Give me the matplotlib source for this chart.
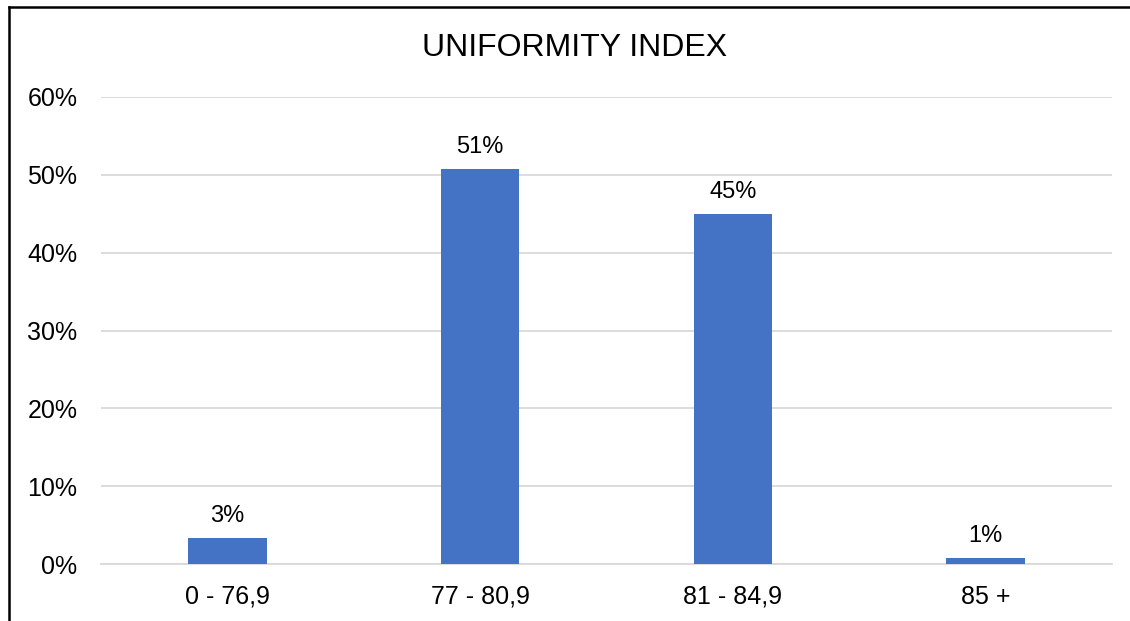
import matplotlib.pyplot as plt
from matplotlib.ticker import PercentFormatter

plt.rcParams['font.family'] = ['Liberation Sans', 'DejaVu Sans']

categories = ['0 - 76,9', '77 - 80,9', '81 - 84,9', '85 +']
shares = [0.034, 0.508, 0.450, 0.008]
y_ticks = [0.0, 0.1, 0.2, 0.3, 0.4, 0.5, 0.6]

W, H = 1130, 621
fig = plt.figure(figsize=(W / 100, H / 100), dpi=100)
ax = fig.add_axes([101 / W, 1 - 564 / H, (1112 - 101) / W, (564 - 97) / H])

x = range(len(categories))
bars = ax.bar(x, shares, width=0.31, color='#4472C4', zorder=3)
for b, v in zip(bars, shares):
    ax.text(b.get_x() + b.get_width() / 2, v + 0.014, f'{v:.0%}',
            ha='center', va='bottom', fontsize=17, color='#000000')

ax.set_xlim(-0.5, len(categories) - 0.5)
ax.set_ylim(0, 0.6)
ax.set_yticks(y_ticks)
ax.yaxis.set_major_formatter(PercentFormatter(1.0, decimals=0))
ax.set_xticks(list(x))
ax.set_xticklabels(categories)
ax.tick_params(axis='y', length=0, pad=17, labelsize=18)
ax.tick_params(axis='x', length=0, pad=15, labelsize=18)
ax.grid(axis='y', color='#d9d9d9', linewidth=1.3, zorder=0)
for s in ['top', 'right', 'left']:
    ax.spines[s].set_visible(False)
ax.spines['bottom'].set_color('#d9d9d9')
ax.spines['bottom'].set_linewidth(1.3)

fig.text(574.5 / W, 1 - 48 / H, 'UNIFORMITY INDEX', ha='center', va='center',
         fontsize=23, color='#000000')

# outer frame (only left and top edges fall inside the canvas)
fig.add_artist(plt.Line2D([8.5 / W, 8.5 / W], [0, 1 - 7 / H], color='black',
                          linewidth=1.8, transform=fig.transFigure))
fig.add_artist(plt.Line2D([8.5 / W, 1], [1 - 7 / H, 1 - 7 / H], color='black',
                          linewidth=1.8, transform=fig.transFigure))

fig.savefig('out.png', dpi=100)
